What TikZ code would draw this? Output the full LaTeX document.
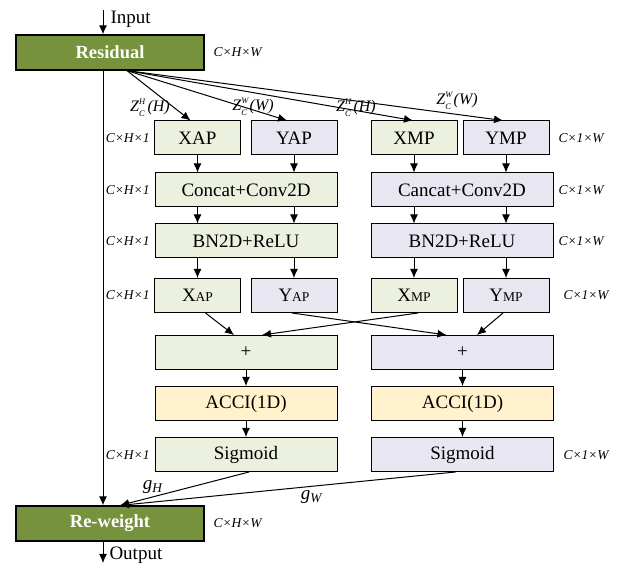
\documentclass[tikz,border=0pt]{standalone}
\usepackage{fontspec}
\setmainfont{Liberation Serif}
\usetikzlibrary{arrows.meta,positioning}

\definecolor{resgreen}{RGB}{118,146,60}
\definecolor{boxgreen}{RGB}{235,241,222}
\definecolor{boxpurple}{RGB}{232,230,240}
\definecolor{boxyellow}{RGB}{255,242,204}

% Z_C^x(x) label in text italics
\newcommand{\zcl}[2]{\textit{Z}\rlap{\raisebox{0.85ex}{\fontsize{8.5}{9}\selectfont\textit{#1}}}\raisebox{-0.75ex}{\fontsize{8.5}{9}\selectfont\textit{C}}\,\textit{(#2)}}
\newcommand{\sml}[1]{{\fontsize{13.5}{14}\selectfont #1}}

\begin{document}
\begin{tikzpicture}[x=1pt, y=-1pt, node distance=51pt, line width=1pt, >={Latex[length=9pt,width=8pt]},
        every node/.style={font=\fontsize{19}{21}\selectfont},
        mainbox/.style={draw, line width=1.2pt, fill=resgreen, text=white, font=\fontsize{18.5}{20}\selectfont\bfseries, minimum width=188pt, minimum height=35pt},
        gbox/.style={draw, fill=boxgreen, minimum height=34pt, inner sep=0pt},
        pbox/.style={draw, fill=boxpurple, minimum height=34pt, inner sep=0pt},
        ybox/.style={draw, fill=boxyellow, minimum height=34pt, inner sep=0pt},
        narrow/.style={minimum width=86pt},
        broad/.style={minimum width=182pt},
        dimlab/.style={font=\fontsize{13.5}{14}\selectfont\itshape, inner sep=0pt},
        zlab/.style={font=\fontsize{16}{17}\selectfont, inner sep=0pt}]
        \useasboundingbox (0,0) rectangle (622,569);

        \node[mainbox] (res) at (110,52.5) {Residual};
        \node[mainbox] (rew) at (110,523.5) {Re-weight};

        \node[gbox,narrow] (xap) at (197.5,138) {XAP};
        \node[pbox,narrow] (yap) at (294,138) {YAP};
        \node[gbox,narrow] (xmp) at (414,138) {XMP};
        \node[pbox,narrow] (ymp) at (506,138) {YMP};

        \node[gbox,broad] (catl) at (246,190) {Concat+Conv2D};
        \node[gbox,broad] (bnl) [below of=catl] {BN2D+ReLU};
        \node[pbox,broad] (catr) at (462,190) {Cancat+Conv2D};
        \node[pbox,broad] (bnr) [below of=catr] {BN2D+ReLU};

        \node[gbox,narrow] (xap2) at (197.5,295.5) {X\sml{AP}};
        \node[pbox,narrow] (yap2) at (294,295.5) {Y\sml{AP}};
        \node[gbox,narrow] (xmp2) at (414,295.5) {X\sml{MP}};
        \node[pbox,narrow] (ymp2) at (506,295.5) {Y\sml{MP}};

        \node[gbox,broad] (addl) at (246,352.5) {+};
        \node[ybox,broad] (accl) [below of=addl] {ACCI(1D)};
        \node[gbox,broad] (sigl) [below of=accl] {Sigmoid};
        \node[pbox,broad] (addr) at (462.5,352.5) {+};
        \node[ybox,broad] (accr) [below of=addr] {ACCI(1D)};
        \node[pbox,broad] (sigr) [below of=accr] {Sigmoid};

        % sizes
        \node[dimlab,anchor=west] (dres) at (213,52.5) {C×H×W};
        \node[dimlab,anchor=west] (drew) at (213,523.5) {C×H×W};
        \foreach \y [count=\i] in {138,190,241,295.5,455}
            \node[dimlab,anchor=east] (dl\i) at (150,\y) {C×H×1};
        \foreach \y/\x [count=\i] in {138/558,190/558,241/558,295.5/563,455/563}
            \node[dimlab,anchor=west] (dr\i) at (\x,\y) {C×1×W};

        % in and out
        \coordinate (inp) at (103,10);
        \coordinate (outp) at (103,563);
        \node[anchor=west, inner sep=0pt] (intxt) at (110,19) {Input};
        \node[anchor=west, inner sep=0pt] (outtxt) at (109,555) {Output};
        \draw[->] (inp) -- (inp |- res.north);
        \draw[->] (inp |- res.south) -- (inp |- rew.north);
        \draw[->] (inp |- rew.south) -- (outp);

        % pooling branches
        \foreach \n/\dx in {xap/-7, yap/-7, xmp/-1, ymp/-3}
            \draw[->] ([xshift=17pt]res.south) -- ([xshift=\dx pt]\n.north);
        \node[zlab] (z1) at (150,108) {\zcl{H}{H}};
        \node[zlab] (z2) at (253,107) {\zcl{W}{W}};
        \node[zlab] (z3) at (356,108) {\zcl{H}{H}};
        \node[zlab] (z4) at (457,101) {\zcl{W}{W}};

        \foreach \a/\b/\c/\d in {xap/catl/bnl/xap2, yap/catl/bnl/yap2, xmp/catr/bnr/xmp2, ymp/catr/bnr/ymp2} {
            \draw[->] (\a.south) -- (\a.south |- \b.north);
            \draw[->] (\a |- \b.south) -- (\a |- \c.north);
            \draw[->] (\d |- \c.south) -- (\d.north);
        }

        % cross
        \draw[->] ([xshift=8pt]xap2.south) -- ([xshift=-12pt]addl.north);
        \draw[->] ([xshift=-2pt]yap2.south) -- ([xshift=-16pt]addr.north);
        \draw[->] ([xshift=4pt]xmp2.south) -- ([xshift=16pt]addl.north);
        \draw[->] ([xshift=-3pt]ymp2.south) -- ([xshift=14.5pt]addr.north);

        \draw[->] (addl) -- (accl);
        \draw[->] (accl) -- (sigl);
        \draw[->] (addr) -- (accr);
        \draw[->] (accr) -- (sigr);

        % gates
        \draw[->] ([xshift=3pt]sigl.south) -- ([xshift=10pt]rew.north);
        \draw[->] ([xshift=-7pt]sigr.south) -- ([xshift=10pt]rew.north);
        \node (gh) at (153,487) {\textit{g}\textsubscript{\textit{H}}};
        \node (gw) at (312,497) {\textit{g}\textsubscript{\textit{W}}};
\end{tikzpicture}
\end{document}
